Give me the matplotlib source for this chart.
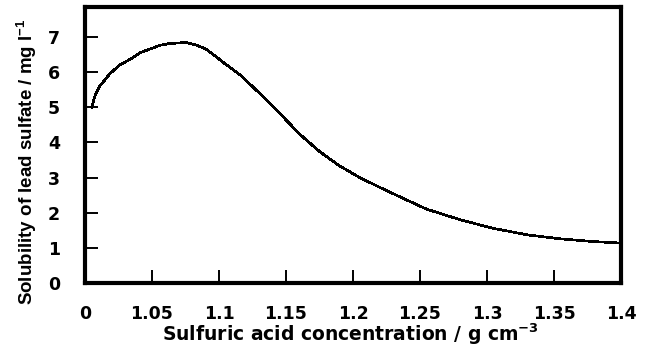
import matplotlib
matplotlib.use("Agg")
import matplotlib.pyplot as plt

# solubility of PbSO4 vs. sulfuric acid density
density = [1.005, 1.0075, 1.011, 1.019, 1.026, 1.034, 1.041, 1.049, 1.056, 1.063,
           1.075, 1.082, 1.090, 1.097, 1.104, 1.116, 1.131, 1.146, 1.160, 1.175,
           1.190, 1.205, 1.220, 1.235, 1.255, 1.280, 1.304, 1.330, 1.354, 1.379, 1.398]
solubility = [5.0, 5.33, 5.6, 5.97, 6.2, 6.37, 6.55, 6.66, 6.76, 6.81,
              6.84, 6.78, 6.66, 6.46, 6.25, 5.91, 5.37, 4.8, 4.24, 3.74,
              3.33, 3.0, 2.72, 2.45, 2.1, 1.8, 1.56, 1.37, 1.26, 1.18, 1.14]

xticks = [1.0, 1.05, 1.1, 1.15, 1.2, 1.25, 1.3, 1.35, 1.4]
xticklabels = ["0", "1.05", "1.1", "1.15", "1.2", "1.25", "1.3", "1.35", "1.4"]
yticks = [0, 1, 2, 3, 4, 5, 6, 7]

plt.rcParams["font.family"] = ["DejaVu Sans"]
plt.rcParams["font.weight"] = "bold"
plt.rcParams["mathtext.default"] = "regular"

fig = plt.figure(figsize=(6.5, 3.55), dpi=100)
ax = fig.add_axes([85/650, 1 - 283/355, 536/650, 276/355])

ax.plot(density, solubility, color="black", lw=1.2, antialiased=False)

ax.set_xlim(1.0, 1.4)
ax.set_ylim(0, 7.85)
ax.set_xticks(xticks)
ax.set_xticklabels(xticklabels)
ax.set_yticks(yticks)

for s in ax.spines.values():
    s.set_linewidth(3)
ax.tick_params(direction="in", length=9.5, width=1.4, labelsize=12.5)
ax.tick_params(axis="x", pad=16)
ax.tick_params(axis="y", pad=18)
for lab in ax.get_xticklabels() + ax.get_yticklabels():
    lab.set_fontweight("bold")

ax.set_xlabel("Sulfuric acid concentration / g cm$^{-3}$", fontsize=13.5, fontweight="bold")
ax.set_ylabel("Solubility of lead sulfate / mg l$^{-1}$", fontsize=13.5, fontweight="bold",
              family=["Liberation Sans", "DejaVu Sans"])
ax.xaxis.set_label_coords(0.496, -0.14)
ax.yaxis.set_label_coords(-0.086, 0.438)

fig.savefig("out.png", dpi=100)
